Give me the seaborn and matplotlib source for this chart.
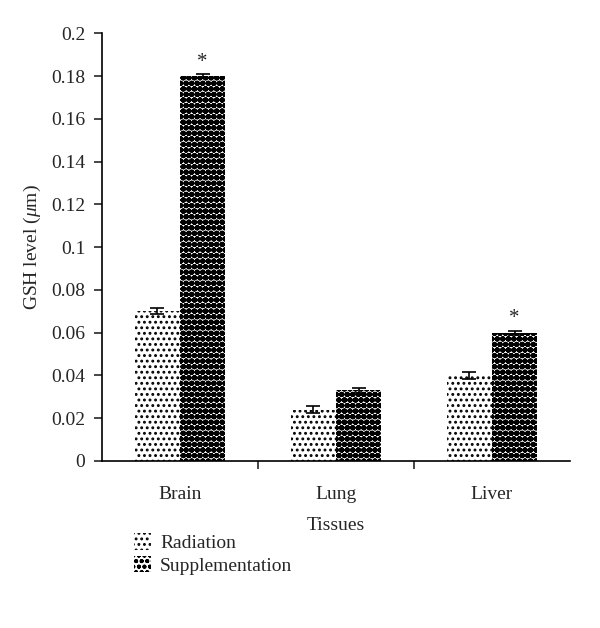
import numpy as np
import pandas as pd
import matplotlib
matplotlib.use("Agg")
import matplotlib.pyplot as plt
import seaborn as sns
from matplotlib.patches import Patch

# ------------------ DATA ------------------

tissues = ["Brain", "Lung", "Liver"]
groups = ["Radiation", "Supplementation"]
radiation = [0.070, 0.024, 0.040]
supplementation = [0.180, 0.033, 0.060]
radiation_err = [0.0015, 0.0018, 0.0018]
supplementation_err = [0.0010, 0.0010, 0.0010]
significant = [True, False, True]  # asterisk on supplementation bar

df = pd.DataFrame({
    "Tissue": tissues * 2,
    "Group": [groups[0]] * 3 + [groups[1]] * 3,
    "GSH": radiation + supplementation,
})

# ------------------ STYLE ------------------

sns.set_style("white")
plt.rcParams["font.family"] = ["Liberation Serif", "DejaVu Serif"]
plt.rcParams["hatch.linewidth"] = 1.3
plt.rcParams["mathtext.fontset"] = "custom"
plt.rcParams["mathtext.it"] = "Liberation Serif:italic"
plt.rcParams["mathtext.rm"] = "Liberation Serif"

hatches = {"Radiation": "...", "Supplementation": "ooo"}
hatch_lw = {"Radiation": 1.3, "Supplementation": 2.2}


def style_patch(p, grp):
    p.set_hatch(hatches[grp])
    p.set_edgecolor("black")
    p.set_linewidth(0)
    if hasattr(p, "set_hatch_linewidth"):
        p.set_hatch_linewidth(hatch_lw[grp])


fig = plt.figure(figsize=(6, 6.28), dpi=100)
ax = fig.add_axes([0.17, 0.266, 0.78, 0.681])

sns.barplot(
    data=df, x="Tissue", y="GSH", hue="Group", order=tissues,
    hue_order=groups, palette=["white", "white"], errorbar=None,
    width=0.58, gap=0, ax=ax, legend=False, linewidth=0,
)

# hatches + error bars
errs = radiation_err + supplementation_err
for i, bar in enumerate(ax.patches[:6]):
    grp = groups[i // 3]
    style_patch(bar, grp)
    cx = bar.get_x() + bar.get_width() / 2
    h = bar.get_height()
    ax.errorbar(cx, h, yerr=errs[i], fmt="none", ecolor="black",
                elinewidth=1.2, capsize=5, capthick=1.2)
    if grp == "Supplementation" and significant[i % 3]:
        ax.text(cx, h + errs[i] + 0.001, "*", ha="center", va="bottom",
                fontsize=15)

# ------------------ AXES ------------------

ax.set_ylim(0, 0.2)
ax.set_yticks(np.arange(0, 0.201, 0.02))
ax.set_yticklabels(["0", "0.02", "0.04", "0.06", "0.08", "0.1", "0.12",
                    "0.14", "0.16", "0.18", "0.2"])
ax.set_xlim(-0.5, 2.5)
ax.set_xticks([0.5, 1.5], minor=True)
ax.tick_params(axis="x", which="major", length=0, labelsize=14, pad=18)
ax.tick_params(axis="x", which="minor", length=6, width=1.2, direction="out",
               bottom=True)
ax.tick_params(axis="y", length=6, width=1.2, direction="out", left=True,
               labelsize=14, pad=6)

for s in ["top", "right"]:
    ax.spines[s].set_visible(False)
for s in ["left", "bottom"]:
    ax.spines[s].set_color("black")
    ax.spines[s].set_linewidth(1.2)

ax.set_xlabel("Tissues", fontsize=14, labelpad=10)
ax.set_ylabel(r"GSH level ($\mathit{\mu}$m)", fontsize=14, labelpad=6)

handles = []
for g in groups:
    p = Patch(facecolor="white", label=g)
    style_patch(p, g)
    handles.append(p)
fig.legend(handles=handles, loc="upper left", bbox_to_anchor=(0.21, 0.163),
           frameon=False, fontsize=14, handlelength=0.9, handleheight=0.9,
           handletextpad=0.45, labelspacing=0.2, borderaxespad=0)

fig.savefig("out.png", dpi=100)
